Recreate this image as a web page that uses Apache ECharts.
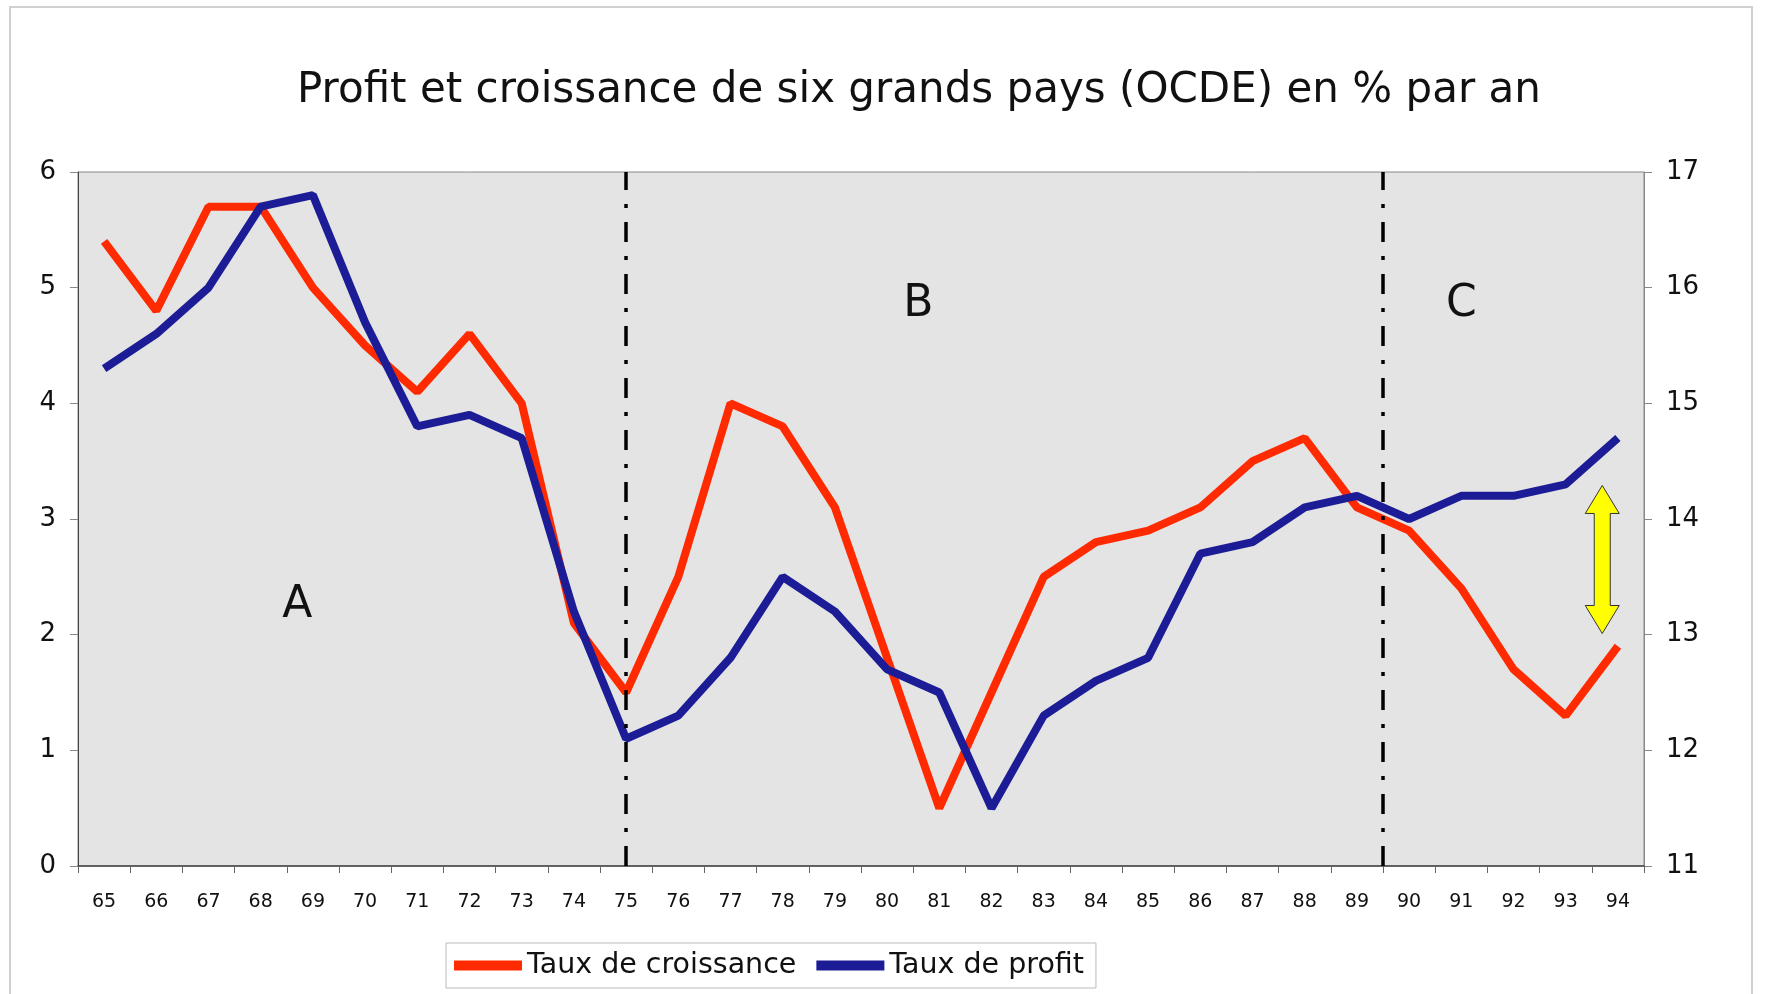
<!DOCTYPE html>
<html>
<head>
<meta charset="utf-8">
<title>Profit et croissance</title>
<script src="https://cdn.jsdelivr.net/npm/echarts@6/dist/echarts.min.js"></script>
<style>
    html, body {margin:0; padding:0; background:#fff;}
    #main {width:1771px; height:994px;}
</style>
</head>
<body>
<div id="main"></div>
<script>
// années 65 - 94
var annees = ['65','66','67','68','69','70','71','72','73','74','75','76','77','78','79',
              '80','81','82','83','84','85','86','87','88','89','90','91','92','93','94'];
// taux de croissance (axe gauche)
var croissance = [5.4,4.8,5.7,5.7,5.0,4.5,4.1,4.6,4.0,2.1,1.5,2.5,4.0,3.8,3.1,
                  1.8,0.5,1.5,2.5,2.8,2.9,3.1,3.5,3.7,3.1,2.9,2.4,1.7,1.3,1.9];
// taux de profit (axe droit)
var profit = [15.3,15.6,16.0,16.7,16.8,15.7,14.8,14.9,14.7,13.2,12.1,12.3,12.8,13.5,13.2,
              12.7,12.5,11.5,12.3,12.6,12.8,13.7,13.8,14.1,14.2,14.0,14.2,14.2,14.3,14.7];
var ticksGauche = [0,1,2,3,4,5,6];
var ticksDroite = [11,12,13,14,15,16,17];
// séparations des périodes (position en index d'année)
var separations = [10, 24.5];
// lettres des périodes [x index, valeur gauche]
var periodes = [
    {nom:'A', pos:[3.7, 2.25]},
    {nom:'B', pos:[15.6, 4.85]},
    {nom:'C', pos:[26.0, 4.85]}
];
// flèche jaune [x index, profit haut, profit bas]
var fleche = [28.7, 14.29, 13.01];

var police = 'DejaVu Sans';
var myChart = echarts.init(document.getElementById('main'));

var option = {
    backgroundColor:'#fff',
    animation:false,
    textStyle:{fontFamily:police, color:'#111'},
    title:{
        text:'Profit et croissance de six grands pays (OCDE) en % par an',
        left:292,
        top:65,
        textStyle:{fontFamily:police, fontSize:42, fontWeight:'normal', color:'#111'}
    },
    legend:{
        left:446,
        top:943,
        padding:[8,12,8,8],
        itemGap:20,
        itemWidth:68,
        itemHeight:10,
        icon:'rect',
        borderColor:'#bbb',
        borderWidth:1,
        textStyle:{fontFamily:police, fontSize:28.5, color:'#111'},
        data:['Taux de croissance','Taux de profit']
    },
    grid:{
        left:78, right:127, top:172, bottom:128,
        show:true,
        backgroundColor:'#e4e4e4',
        borderColor:'#888',
        borderWidth:1
    },
    xAxis:[{
        type:'category',
        data:annees,
        boundaryGap:true,
        axisLine:{lineStyle:{color:'#444', width:1.5}},
        axisTick:{show:true, length:7, lineStyle:{color:'#666'}},
        axisLabel:{fontSize:19, margin:27, color:'#111', interval:0}
    },{
        // axe caché pour les annotations
        type:'value',
        min:-0.5,
        max:29.5,
        show:false
    }],
    yAxis:[{
        type:'value',
        min:ticksGauche[0],
        max:ticksGauche[ticksGauche.length-1],
        interval:1,
        splitLine:{show:false},
        axisLine:{show:true, onZero:false, lineStyle:{color:'#444'}},
        axisTick:{show:true, length:8, lineStyle:{color:'#888'}},
        axisLabel:{fontSize:26, margin:22, color:'#111'}
    },{
        type:'value',
        min:ticksDroite[0],
        max:ticksDroite[ticksDroite.length-1],
        interval:1,
        splitLine:{show:false},
        axisLine:{show:true, onZero:false, lineStyle:{color:'#888'}},
        axisTick:{show:true, length:8, lineStyle:{color:'#888'}},
        axisLabel:{fontSize:26, margin:22, color:'#111'}
    }],
    series:[
        {
            name:'Taux de croissance',
            type:'line',
            yAxisIndex:0,
            data:croissance,
            symbol:'none',
            itemStyle:{color:'#ff2a00'},
            lineStyle:{color:'#ff2a00', width:8}
        },
        {
            name:'Taux de profit',
            type:'line',
            yAxisIndex:1,
            data:profit,
            symbol:'none',
            itemStyle:{color:'#1c1c96'},
            lineStyle:{color:'#1c1c96', width:8}
        },
        {
            name:'annotations',
            type:'line',
            xAxisIndex:1,
            yAxisIndex:0,
            data:[],
            silent:true,
            markLine:{
                symbol:'none',
                silent:true,
                label:{show:false},
                lineStyle:{color:'#000', width:3.5, type:[20,14,4,14]},
                data:separations.map(function(v){ return {xAxis:v}; })
            },
            markPoint:{
                symbol:'circle',
                symbolSize:1,
                itemStyle:{color:'rgba(0,0,0,0)'},
                label:{
                    show:true,
                    position:'inside',
                    fontFamily:police,
                    fontSize:44,
                    color:'#111',
                    formatter:function(p){ return p.name; }
                },
                data:periodes.map(function(p){ return {name:p.nom, coord:p.pos}; })
            }
        }
    ]
};
myChart.setOption(option);

// cadre extérieur + flèche jaune
function dessinerAnnotations(){
    var cx = myChart.convertToPixel({xAxisIndex:1}, fleche[0]);
    var y1 = myChart.convertToPixel({yAxisIndex:1}, fleche[1]);
    var y2 = myChart.convertToPixel({yAxisIndex:1}, fleche[2]);
    var h = 28, tete = 17, corps = 8;
    var pts = [
        [cx, y1], [cx+tete, y1+h], [cx+corps, y1+h], [cx+corps, y2-h], [cx+tete, y2-h],
        [cx, y2], [cx-tete, y2-h], [cx-corps, y2-h], [cx-corps, y1+h], [cx-tete, y1+h]
    ];
    myChart.setOption({
        graphic:[
            {
                type:'rect',
                shape:{x:10, y:7, width:1742, height:1000},
                style:{fill:'none', stroke:'#d0d0d0', lineWidth:2},
                silent:true,
                z:-1
            },
            {
                type:'polygon',
                shape:{points:pts},
                style:{fill:'#ffff00', stroke:'#333', lineWidth:1},
                z:10
            }
        ]
    });
}
dessinerAnnotations();
</script>
</body>
</html>
